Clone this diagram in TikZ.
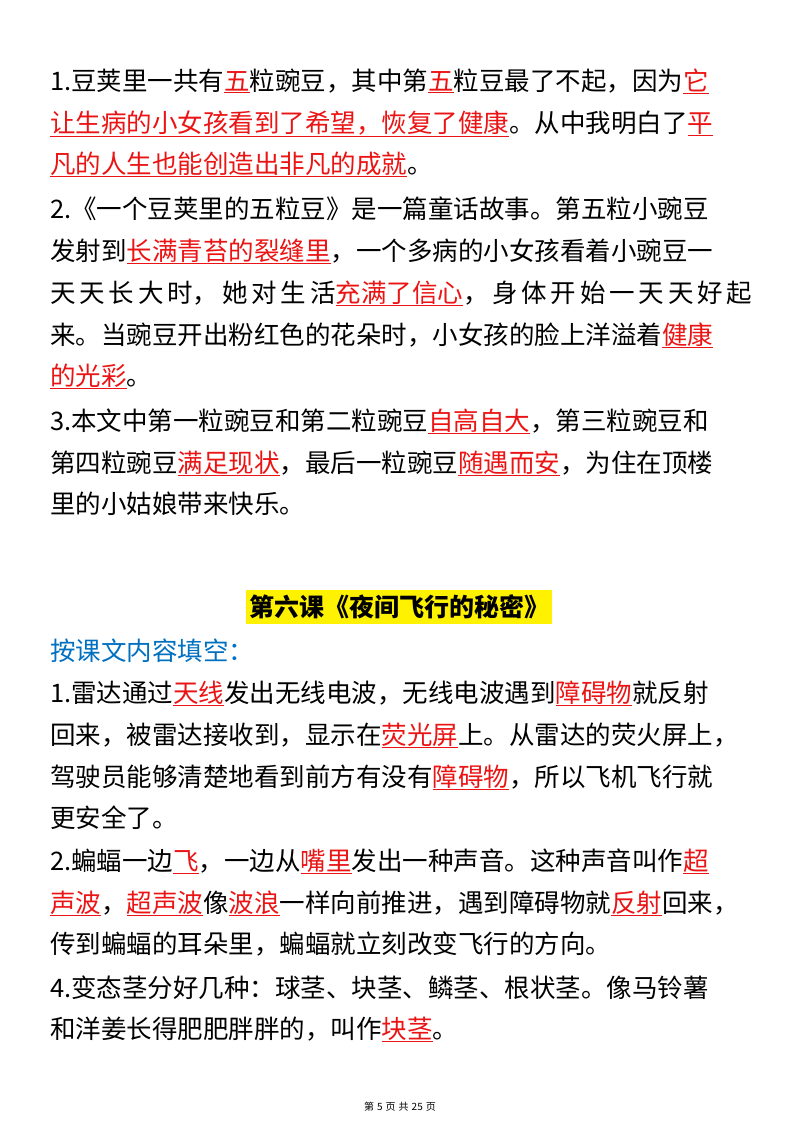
\documentclass[tikz,border=0pt]{standalone}
\usepackage{fontspec}
\setmainfont{Noto Sans CJK SC}
\XeTeXlinebreaklocale "zh"
\XeTeXlinebreakskip=0pt plus 2pt
\definecolor{myblue}{RGB}{0,112,192}
\definecolor{myred}{RGB}{235,20,20}
\newcommand\hl[1]{\textcolor{myred}{\underline{#1}}}
\newcommand\full[1]{\hbox to 702pt{#1}}
\tikzset{ln/.style={anchor=base west,inner sep=0pt,font=\fontsize{25.5}{30}\selectfont}}
\begin{document}
\begin{tikzpicture}[x=1pt,y=-1pt]
\useasboundingbox[fill=white] (0,0) rectangle (800,1132);
\node[ln] (l1) at (50,90) {\full{1.豆荚里一共有\hl{五}粒豌豆，其中第\hl{五}粒豆最了不起，因为\hl{它}}};
\node[ln] (l2) at (50,132) {\full{\hl{让生病的小女孩看到了希望，恢复了健康}。从中我明白了\hl{平}}};
\node[ln] (l3) at (50,173) {\hl{凡的人生也能创造出非凡的成就}。};
\node[ln] (l4) at (50,218) {\full{2.《一个豆荚里的五粒豆》是一篇童话故事。第五粒小豌豆}};
\node[ln] (l5) at (50,260) {\full{发射到\hl{长满青苔的裂缝里}，一个多病的小女孩看着小豌豆一}};
\node[ln] (l6) at (50,302) {\full{天\hfill 天\hfill 长\hfill 大\hfill 时，\hfill 她\hfill 对\hfill 生\hfill 活\hl{充满了信心}，\hfill 身\hfill 体\hfill 开\hfill 始\hfill 一\hfill 天\hfill 天\hfill 好\hfill 起}};
\node[ln] (l7) at (50,344) {\full{来。当豌豆开出粉红色的花朵时，小女孩的脸上洋溢着\hl{健康}}};
\node[ln] (l8) at (50,385) {\hl{的光彩}。};
\node[ln] (l9) at (50,430) {\full{3.本文中第一粒豌豆和第二粒豌豆\hl{自高自大}，第三粒豌豆和}};
\node[ln] (l10) at (50,472) {\full{第四粒豌豆\hl{满足现状}，最后一粒豌豆\hl{随遇而安}，为住在顶楼}};
\node[ln] (l11) at (50,513) {里的小姑娘带来快乐。};
\node[fill=yellow,inner xsep=3pt,inner ysep=5pt,font=\fontsize{25}{30}\selectfont\bfseries] (t) at (399,607) {第六课《夜间飞行的秘密》};
\node[ln,text=myblue] (h) at (50,660) {按课文内容填空：};
\node[ln] (m1) at (50,702) {\full{1.雷达通过\hl{天线}发出无线电波，无线电波遇到\hl{障碍物}就反射}};
\node[ln] (m2) at (50,744) {\full{回来，被雷达接收到，显示在\hl{荧光屏}上。从雷达的荧火屏上，}};
\node[ln] (m3) at (50,786) {\full{驾驶员能够清楚地看到前方有没有\hl{障碍物}，所以飞机飞行就}};
\node[ln] (m4) at (50,827) {更安全了。};
\node[ln] (m5) at (50,870) {\full{2.蝙蝠一边\hl{飞}，一边从\hl{嘴里}发出一种声音。这种声音叫作\hl{超}}};
\node[ln] (m6) at (50,912) {\full{\hl{声波}，\hl{超声波}像\hl{波浪}一样向前推进，遇到障碍物就\hl{反射}回来，}};
\node[ln] (m7) at (50,953) {传到蝙蝠的耳朵里，蝙蝠就立刻改变飞行的方向。};
\node[ln] (m8) at (50,997) {\full{4.变态茎分好几种：球茎、块茎、鳞茎、根状茎。像马铃薯}};
\node[ln] (m9) at (50,1038) {和洋姜长得肥肥胖胖的，叫作\hl{块茎}。};
\node[font=\fontsize{10}{12}\selectfont] (f) at (400,1107) {第\hspace{3pt}5\hspace{3pt}页\hspace{3pt}共\hspace{3pt}25\hspace{3pt}页};
\end{tikzpicture}
\end{document}
